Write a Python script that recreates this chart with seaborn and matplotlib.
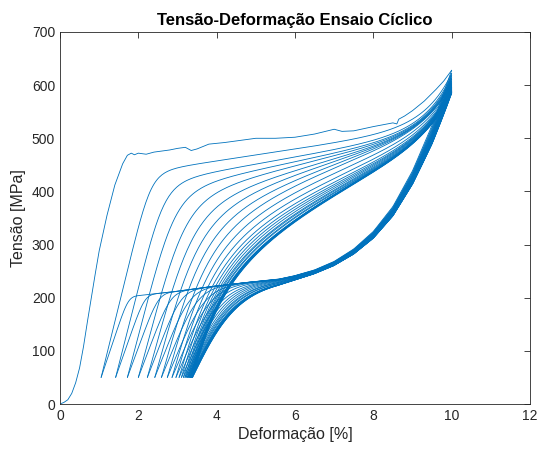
import numpy as np
import pandas as pd
import seaborn as sns
import matplotlib
matplotlib.use("Agg")
import matplotlib.pyplot as plt

# ---------------- data ----------------
# first (virgin) loading curve, strain [%] and stress [MPa]
first_eps = [0.0, 0.1, 0.2, 0.3, 0.4, 0.5, 0.6, 0.7, 0.8, 0.9, 1.0, 1.2, 1.4, 1.6, 1.72,
             1.82, 1.9, 2.0, 2.2, 2.4, 2.6, 2.8, 3.0, 3.2, 3.35, 3.5, 3.8, 4.2, 4.6,
             5.0, 5.5, 6.0, 6.5, 7.0, 7.2, 7.5, 8.0, 8.5, 8.6, 8.65, 8.8, 9.0, 9.3,
             9.6, 9.8, 10.0]
first_sig = [0, 3, 8, 20, 40, 68, 108, 155, 200, 245, 288, 355, 412, 452, 468,
             472, 469, 472, 470, 474, 476, 478, 481, 483, 477, 480, 489, 492, 496,
             500, 500, 502, 508, 517, 513, 514, 522, 529, 527, 536, 542, 552, 570,
             592, 608, 628]

# residual strain at 50 MPa after each unloading
residual = [1.05, 1.42, 1.72, 2.00, 2.23, 2.42, 2.59, 2.74, 2.86, 2.96, 3.04, 3.10,
            3.15, 3.19, 3.22, 3.25, 3.27, 3.29, 3.31, 3.32, 3.33, 3.34, 3.35, 3.36,
            3.37, 3.375, 3.38, 3.385]
# peak stress reached at 10 % strain in each cycle
peak = [628, 622, 618, 614, 611, 608, 605, 603, 601, 599, 597, 596, 595, 594, 593,
        592, 591, 590, 589, 589, 588, 588, 587, 587, 586, 586, 585, 585]

# re-loading branches (cycles 2..28): plateau level, hardening slope,
# elastic slope and knee sharpness
load_plateau = [425, 405, 392, 382, 373, 366, 360, 355, 351, 347, 344, 341, 339, 337,
                335, 334, 333, 332, 331, 331, 330, 330, 330, 329, 329, 329, 328]
load_slope = [11, 13, 15, 17, 19, 21, 23, 25, 26, 27, 28, 29, 30, 31, 32, 32, 33, 33,
              34, 34, 34, 35, 35, 35, 35, 35, 35]
load_mod = [300, 290, 280, 272, 266, 262, 258, 256, 254, 252, 251, 250, 250, 250, 250,
            250, 250, 250, 250, 250, 250, 250, 250, 250, 250, 250, 250]
load_sharp = [8.0, 6.0, 4.6, 3.8, 3.2, 2.8, 2.5, 2.25, 2.05, 1.9, 1.8, 1.75, 1.7, 1.65,
              1.6, 1.6, 1.55, 1.55, 1.5, 1.5, 1.5, 1.5, 1.5, 1.5, 1.5, 1.5, 1.5]

# common unloading envelope (reverse transformation)
unl_eps = [0.5, 1.0, 2.0, 3.0, 4.0, 5.0, 5.6, 6.0, 6.5, 7.0, 7.5, 8.0, 8.5, 9.0, 9.5, 10.0]
unl_sig = [190, 195, 204, 212, 222, 230, 234, 240, 250, 265, 287, 318, 362, 425, 505, 600]
# unloading branches: elastic slope and knee sharpness
unl_mod = [220, 210, 200, 195, 190, 185, 180, 176, 172, 168, 165, 162, 160, 158, 156,
           155, 154, 153, 152, 151, 150, 150, 150, 150, 150, 150, 150, 150]
unl_sharp = [4.0, 3.5, 3.0, 2.6, 2.3, 2.0, 1.8, 1.6, 1.5, 1.4, 1.3, 1.25, 1.2, 1.15,
             1.1, 1.1, 1.05, 1.05, 1.0, 1.0, 1.0, 1.0, 1.0, 1.0, 1.0, 1.0, 1.0, 1.0]

MIN_SIG = 50.0

# ---------------- build the curves ----------------
def knee_alg(x, n):
    return x / (1.0 + x ** n) ** (1.0 / n)

def knee_tanh(x, n):
    return np.tanh(x ** n) ** (1.0 / n)

rows = []
def add(curve, e, s):
    for a, b in zip(e, s):
        rows.append((curve, a, b))

cid = 0
add(cid, first_eps, first_sig)
cid += 1
ncyc = len(residual)
for k in range(ncyc):
    # unloading of cycle k from (10, peak) to (residual, 50)
    r = residual[k]
    e = np.linspace(10.0, r, 260)
    env = np.interp(e, unl_eps, unl_sig) + (peak[k] - 600) * np.exp((e - 10.0) / 1.4)
    x = unl_mod[k] * (e - r) / (env - MIN_SIG)
    s = MIN_SIG + (env - MIN_SIG) * knee_tanh(x, unl_sharp[k])
    s += (peak[k] - s[0]) * np.exp((e - 10.0) / 0.5)
    add(cid, e, s)
    cid += 1
    # re-loading of cycle k+1 from (residual, 50) to (10, peak)
    if k + 1 < ncyc:
        j = k
        e = np.linspace(r, 10.0, 260)
        L = load_plateau[j] + load_slope[j] * (e - r)
        x = load_mod[j] * (e - r) / (L - MIN_SIG)
        s = MIN_SIG + (L - MIN_SIG) * knee_alg(x, load_sharp[j])
        s += (peak[k + 1] - s[-1]) * np.exp((e - 10.0) / 0.7)
        add(cid, e, s)
        cid += 1

df = pd.DataFrame(rows, columns=["curve", "eps", "sig"])

# ---------------- plot ----------------
sns.set_theme(style="white")
plt.rcParams["font.family"] = ["Liberation Sans", "DejaVu Sans"]
dark = "#262626"

fig = plt.figure(figsize=(5.38, 4.5), dpi=100)
ax = fig.add_axes([60 / 538, 46 / 450, 470 / 538, 372 / 450])
sns.lineplot(data=df, x="eps", y="sig", units="curve", estimator=None, sort=False,
             color="#0072BD", linewidth=0.6, ax=ax, legend=False)

ax.set_xlim(0, 12)
ax.set_ylim(0, 700)
ax.set_xticks(np.arange(0, 13, 2))
ax.set_yticks(np.arange(0, 701, 100))
ax.tick_params(direction="in", length=4, width=0.6, colors=dark, labelsize=10,
               top=True, right=True, labelcolor=dark)
for sp in ax.spines.values():
    sp.set_color(dark)
    sp.set_linewidth(0.6)
ax.set_xlabel("Deformação [%]", fontsize=11.5, color=dark, labelpad=3)
ax.set_ylabel("Tensão [MPa]", fontsize=11.5, color=dark, labelpad=4)
ax.set_title("Tensão-Deformação Ensaio Cíclico", fontsize=12, fontweight="bold",
             color="black", pad=5)

fig.savefig("out.png", dpi=100, facecolor="white")
